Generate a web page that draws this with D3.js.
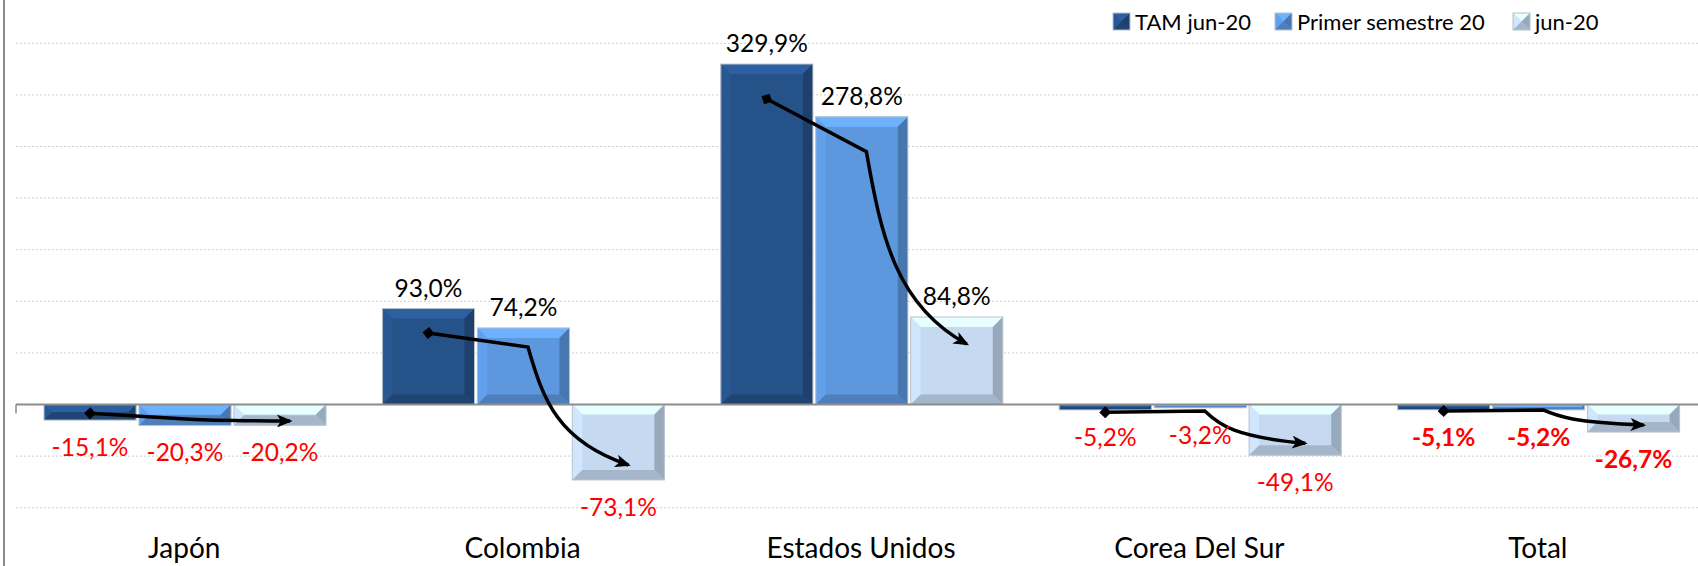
<!DOCTYPE html>
<html>
<head>
<meta charset="utf-8">
<script src="https://cdn.jsdelivr.net/npm/d3@7"></script>
<style>
  body { margin: 0; background: #fff; }
  svg { display: block; font-family: Lato, "Open Sans", sans-serif; }
</style>
</head>
<body>
<svg id="chart" width="1698" height="566"></svg>
<script>
// categories and series
var categories = ["Japón", "Colombia", "Estados Unidos", "Corea Del Sur", "Total"];
var seriesNames = ["TAM jun-20", "Primer semestre 20", "jun-20"];
var tamJun20 = [-15.1, 93.0, 329.9, -5.2, -5.1];
var primerSem20 = [-20.3, 74.2, 278.8, -3.2, -5.2];
var jun20 = [-20.2, -73.1, 84.8, -49.1, -26.7];
var gridTicks = [-100, -50, 50, 100, 150, 200, 250, 300, 350];

// values the annotation arrows pass through (start, bend, end)
var arrowStart = [-8.5, 69.3, 296, -7.6, -6.3];
var arrowBend = [-14.3, 55.7, 245, -6.3, -5.3];
var arrowEnd = [-16, -58.6, 58.6, -37.6, -19.9];

var colors = ["#26528a", "#5d98df", "#c5d9f1"];
var seriesValues = [tamJun20, primerSem20, jun20];

var svg = d3.select("#chart");
var W = 1698, H = 566;

var locale = d3.formatLocale({decimal: ",", thousands: ".", grouping: [3], currency: ["", ""], minus: "-"});
var fmt = locale.format(".1f");

/* SCALES */
var x0 = d3.scaleBand().domain(categories).range([15, 1707]);
var x1 = d3.scaleBand().domain(seriesNames).range([29, 311]).paddingInner(0.03);
var y = d3.scaleLinear().domain([-100, 350]).range([507.7, 43.3]);

/* GRIDLINES */
svg.append("g").selectAll("line").data(gridTicks).enter().append("line")
  .attr("x1", 16).attr("x2", W)
  .attr("y1", function(d){ return y(d); }).attr("y2", function(d){ return y(d); })
  .attr("stroke", "#cfcfcf").attr("stroke-width", 1).attr("stroke-dasharray", "2,2");

// left border
svg.append("line").attr("x1", 4).attr("x2", 4).attr("y1", 0).attr("y2", H)
  .attr("stroke", "#8c8c8c").attr("stroke-width", 2);

/* BEVELED BAR */
function bevelBar(g, x, yy, w, h, color) {
  var c = d3.color(color);
  var b = Math.min(10, h / 2, w / 2);
  g.append("rect").attr("x", x).attr("y", yy).attr("width", w).attr("height", h)
    .attr("fill", color);
  var top = [[x, yy], [x + w, yy], [x + w - b, yy + b], [x + b, yy + b]];
  var left = [[x, yy], [x + b, yy + b], [x + b, yy + h - b], [x, yy + h]];
  var right = [[x + w, yy], [x + w, yy + h], [x + w - b, yy + h - b], [x + w - b, yy + b]];
  var bottom = [[x, yy + h], [x + b, yy + h - b], [x + w - b, yy + h - b], [x + w, yy + h]];
  var polys = [
    [top, c.brighter(0.45)],
    [left, c.brighter(0.15)],
    [right, c.darker(0.7)],
    [bottom, c.darker(0.5)]
  ];
  polys.forEach(function(p){
    g.append("polygon").attr("points", p[0].map(function(q){ return q.join(","); }).join(" "))
      .attr("fill", p[1].formatHex());
  });
  g.append("rect").attr("x", x).attr("y", yy).attr("width", w).attr("height", h)
    .attr("fill", "none").attr("stroke", "#b8c2cc").attr("stroke-width", 1);
}

/* BARS */
var barsG = svg.append("g");
categories.forEach(function(cat, i){
  seriesNames.forEach(function(s, j){
    var v = seriesValues[j][i];
    var bx = x0(cat) + x1(s);
    var top = Math.min(y(v), y(0));
    var h = Math.abs(y(v) - y(0));
    bevelBar(barsG, bx, top, x1.bandwidth(), h, colors[j]);
  });
});

/* ZERO LINE */
svg.append("line").attr("x1", 16).attr("x2", W).attr("y1", y(0)).attr("y2", y(0))
  .attr("stroke", "#8c8c8c").attr("stroke-width", 2);
svg.append("line").attr("x1", 16).attr("x2", 16).attr("y1", y(0)).attr("y2", y(0) + 9)
  .attr("stroke", "#8c8c8c").attr("stroke-width", 1.5);

/* ARROWS */
var defs = svg.append("defs");
defs.append("marker").attr("id", "arrowHead")
  .attr("viewBox", "0 0 12 10").attr("refX", 10).attr("refY", 5)
  .attr("markerWidth", 17).attr("markerHeight", 13)
  .attr("markerUnits", "userSpaceOnUse").attr("orient", "auto")
  .append("path").attr("d", "M0,0 L12,5 L0,10 L3,5 Z").attr("fill", "#000");
defs.append("marker").attr("id", "diamond")
  .attr("viewBox", "0 0 10 10").attr("refX", 5).attr("refY", 5)
  .attr("markerWidth", 12).attr("markerHeight", 12)
  .attr("markerUnits", "userSpaceOnUse").attr("orient", "auto")
  .append("path").attr("d", "M5,0 L10,5 L5,10 L0,5 Z").attr("fill", "#000");

var bw = x1.bandwidth();
categories.forEach(function(cat, i){
  var s = [x0(cat) + x1(seriesNames[0]) + bw / 2, y(arrowStart[i])];
  var m = [x0(cat) + x1(seriesNames[1]) + bw * 0.55, y(arrowBend[i])];
  var e = [x0(cat) + x1(seriesNames[2]) + bw / 2 + 10, y(arrowEnd[i])];
  var dx = e[0] - m[0], dy = e[1] - m[1];
  var c1 = [m[0] + 0.15 * dx, m[1] + 0.45 * dy];
  var c2 = [m[0] + 0.3 * dx, e[1] - 0.2 * dy];
  var path = d3.path();
  path.moveTo(s[0], s[1]);
  path.lineTo(m[0], m[1]);
  path.bezierCurveTo(c1[0], c1[1], c2[0], c2[1], e[0], e[1]);
  svg.append("path").attr("d", path.toString())
    .attr("fill", "none").attr("stroke", "#000").attr("stroke-width", 3.5)
    .attr("marker-start", "url(#diamond)").attr("marker-end", "url(#arrowHead)");
});

/* VALUE LABELS */
categories.forEach(function(cat, i){
  seriesNames.forEach(function(s, j){
    var v = seriesValues[j][i];
    var cx = x0(cat) + x1(s) + bw / 2;
    var isTotal = cat === "Total";
    svg.append("text")
      .attr("x", cx)
      .attr("y", v >= 0 ? y(v) - 12 : y(v) + 36)
      .attr("text-anchor", "middle")
      .attr("font-size", "24.5px")
      .attr("font-weight", isTotal ? "bold" : "normal")
      .attr("fill", v >= 0 ? "#000" : "#ff0000")
      .text(fmt(v) + "%");
  });
});

/* CATEGORY LABELS */
svg.append("g").selectAll("text").data(categories).enter().append("text")
  .attr("x", function(d){ return x0(d) + x0.bandwidth() / 2; })
  .attr("y", 558)
  .attr("text-anchor", "middle")
  .attr("font-size", "28px")
  .attr("fill", "#000")
  .text(function(d){ return d; });

/* LEGEND */
var legendX = [1113, 1275, 1513];
var legend = svg.append("g");
seriesNames.forEach(function(s, j){
  bevelBar(legend, legendX[j], 13, 17, 17, colors[j]);
  legend.append("text").attr("x", legendX[j] + 22).attr("y", 30)
    .attr("font-size", "22px").attr("fill", "#000").text(s);
});
</script>
</body>
</html>
